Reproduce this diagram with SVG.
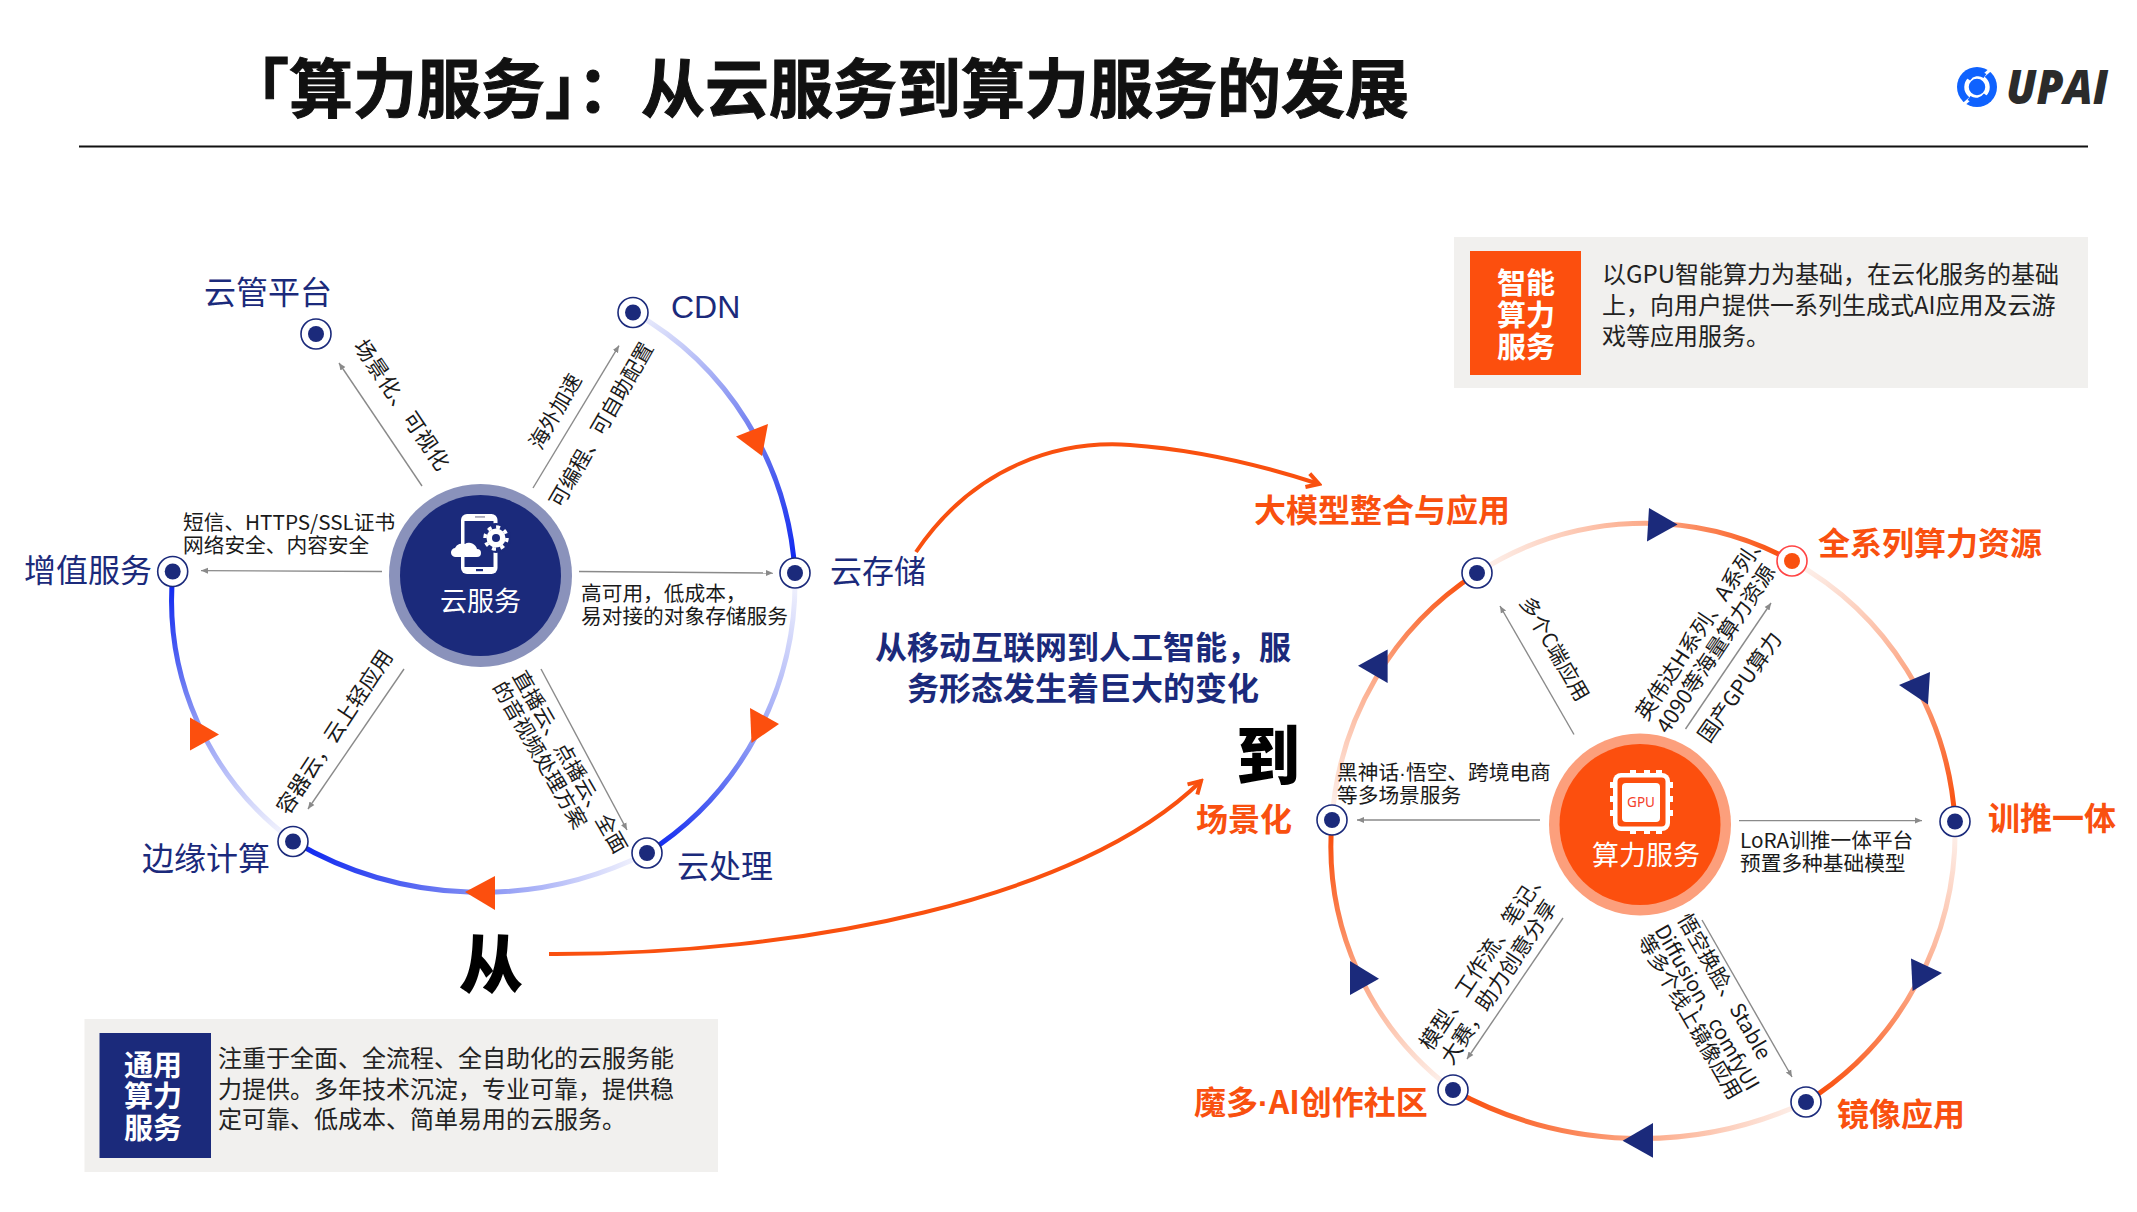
<svg xmlns="http://www.w3.org/2000/svg" width="2137" height="1212" viewBox="0 0 2137 1212">
<style>
text{font-family:"Liberation Sans","Noto Sans CJK SC",sans-serif}
.t{font-family:"Noto Sans CJK SC","Liberation Sans",sans-serif;font-size:20.7px;fill:#1a1a1a}
.w{font-size:21.3px}
.d{font-family:"Noto Sans CJK SC","Liberation Sans",sans-serif;font-size:24px;fill:#222}
.lb{font-family:"Noto Sans CJK SC",sans-serif;font-size:32px;fill:#1b2a7b}
.lo{font-family:"Noto Sans CJK SC",sans-serif;font-size:32px;font-weight:700;fill:#f9500f}
.ctr{font-family:"Noto Sans CJK SC",sans-serif;font-size:27px;fill:#fff;text-anchor:middle}
.box{font-family:"Noto Sans CJK SC",sans-serif;font-size:29px;font-weight:700;fill:#fff;text-anchor:middle}
.big{font-family:"Noto Sans CJK SC",sans-serif;font-size:64px;font-weight:900;fill:#000;text-anchor:middle}
.mid{font-family:"Noto Sans CJK SC",sans-serif;font-size:32px;font-weight:700;fill:#1b2a7b;text-anchor:middle}
.dot{font-family:"Liberation Sans",sans-serif}
.ln{fill:none;stroke:#8a8a8a;stroke-width:1.4;marker-end:url(#g)}
.arc{fill:none;stroke-width:5}
.cv{fill:none;stroke:#f9500f;stroke-width:4;marker-end:url(#o)}
.ra{fill:#fff;stroke:#1b2a7b;stroke-width:1.6}
.rb{fill:#1b2a7b}
.ah1{fill:#fc4f0e}
.ah2{fill:#1b2a7b}
</style>
<defs>
<marker id="g" viewBox="0 0 8 8" refX="7" refY="4" markerWidth="8" markerHeight="8" markerUnits="userSpaceOnUse" orient="auto"><path d="M0,1L7,4L0,7z" fill="#8a8a8a"/></marker>
<marker id="o" viewBox="0 0 18 18" refX="15" refY="9" markerWidth="18" markerHeight="18" markerUnits="userSpaceOnUse" orient="auto"><path d="M3,2L15,9L3,16" fill="none" stroke="#f9500f" stroke-width="4"/></marker>
<linearGradient id="b1" gradientUnits="userSpaceOnUse" x1="640" y1="315" x2="795" y2="560"><stop offset="0" stop-color="#eceefc"/><stop offset=".55" stop-color="#6f7df0"/><stop offset="1" stop-color="#1029f0"/></linearGradient>
<linearGradient id="b2" gradientUnits="userSpaceOnUse" x1="795" y1="585" x2="655" y2="850"><stop offset="0" stop-color="#f0f1fd"/><stop offset=".5" stop-color="#98a3f5"/><stop offset="1" stop-color="#1029f0"/></linearGradient>
<linearGradient id="b3" gradientUnits="userSpaceOnUse" x1="635" y1="860" x2="305" y2="850"><stop offset="0" stop-color="#f0f1fd"/><stop offset=".5" stop-color="#7c89f3"/><stop offset="1" stop-color="#1029f0"/></linearGradient>
<linearGradient id="b4" gradientUnits="userSpaceOnUse" x1="283" y1="830" x2="172" y2="585"><stop offset="0" stop-color="#f0f1fd"/><stop offset=".5" stop-color="#8d98f4"/><stop offset="1" stop-color="#1029f0"/></linearGradient>
<linearGradient id="r1" gradientUnits="userSpaceOnUse" x1="1490" y1="560" x2="1780" y2="555"><stop offset="0" stop-color="#fdeee8"/><stop offset=".6" stop-color="#fca27e"/><stop offset="1" stop-color="#f9500f"/></linearGradient>
<linearGradient id="r2" gradientUnits="userSpaceOnUse" x1="1805" y1="572" x2="1955" y2="808"><stop offset="0" stop-color="#fdeee8"/><stop offset=".55" stop-color="#fca27e"/><stop offset="1" stop-color="#f9500f"/></linearGradient>
<linearGradient id="r3" gradientUnits="userSpaceOnUse" x1="1955" y1="835" x2="1815" y2="1090"><stop offset="0" stop-color="#fdeee8"/><stop offset=".55" stop-color="#fca27e"/><stop offset="1" stop-color="#f9500f"/></linearGradient>
<linearGradient id="r4" gradientUnits="userSpaceOnUse" x1="1795" y1="1110" x2="1465" y2="1095"><stop offset="0" stop-color="#fdeee8"/><stop offset=".5" stop-color="#fca27e"/><stop offset="1" stop-color="#f9500f"/></linearGradient>
<linearGradient id="r5" gradientUnits="userSpaceOnUse" x1="1445" y1="1078" x2="1332" y2="835"><stop offset="0" stop-color="#fdeee8"/><stop offset=".5" stop-color="#fca27e"/><stop offset="1" stop-color="#f9500f"/></linearGradient>
<linearGradient id="r6" gradientUnits="userSpaceOnUse" x1="1334" y1="805" x2="1470" y2="582"><stop offset="0" stop-color="#fdeee8"/><stop offset=".55" stop-color="#fca27e"/><stop offset="1" stop-color="#f9500f"/></linearGradient>
</defs>
<rect width="2137" height="1212" fill="#fff"/>
<text id="title" x="225" y="112" font-size="64" font-weight="700" stroke="#111" stroke-width="1" style="font-family:'Noto Sans CJK SC',sans-serif" fill="#111">「算力服务」：从云服务到算力服务的发展</text>
<path d="M79,146.500H2088" stroke="#111" stroke-width="2.200"/>
<g id="logo">
<circle cx="1977" cy="87" r="20" fill="#0f62fe"/>
<circle cx="1977" cy="87" r="10.500" fill="none" stroke="#fff" stroke-width="4.500"/>
<path d="M1964,104L1972,97M1990,70L1982,77" stroke="#fff" stroke-width="3"/>
<path d="M1968,79A12,12 0 0 1 1985,76M1986,95A12,12 0 0 1 1969,98" fill="none" stroke="#0f62fe" stroke-width="5"/>
<text x="2006" y="104" font-size="47" font-weight="800" font-style="italic" textLength="102" lengthAdjust="spacingAndGlyphs" style="font-family:'Open Sans',sans-serif" fill="#2b2b2b">UPAI</text>
</g>

<g id="connectors">
<path class="arc" stroke="url(#b1)" d="M633,312A312,320 0 0 1 795,573"/>
<path class="arc" stroke="url(#b2)" d="M795,573A312,320 0 0 1 647,853"/>
<path class="arc" stroke="url(#b3)" d="M647,853A370,370 0 0 1 293,841"/>
<path class="arc" stroke="url(#b4)" d="M293,841A300,300 0 0 1 173,571"/>
<polygon class="ah1" points="768,424 736,436.500 762,456"/>
<polygon class="ah1" points="750,708 779,724 751.500,743"/>
<polygon class="ah1" points="495,876 465,892 495,910"/>
<polygon class="ah1" points="190,717.500 219,734.500 190,750.600"/>
<path class="arc" stroke="url(#r1)" d="M1477,573A312,318 0 0 1 1792,561"/>
<path class="arc" stroke="url(#r2)" d="M1792,561A312,318 0 0 1 1955,821"/>
<path class="arc" stroke="url(#r3)" d="M1955,821A312,318 0 0 1 1806,1102"/>
<path class="arc" stroke="url(#r4)" d="M1806,1102A390,390 0 0 1 1453,1090"/>
<path class="arc" stroke="url(#r5)" d="M1453,1090A305,305 0 0 1 1332,820"/>
<path class="arc" stroke="url(#r6)" d="M1332,820A312,318 0 0 1 1477,573"/>
<polygon class="ah2" points="1649,508 1677.600,524.600 1647,541.600"/>
<polygon class="ah2" points="1930,672 1899,685 1928,704.600"/>
<polygon class="ah2" points="1911,958.600 1942,973 1912.600,991"/>
<polygon class="ah2" points="1653,1123 1622.600,1140.700 1653,1157.700"/>
<polygon class="ah2" points="1350,961 1379,978.700 1350,995"/>
<polygon class="ah2" points="1387.600,649.600 1358,665.700 1387.600,683"/>
<path class="ln" d="M422,486L339,363"/>
<path class="ln" d="M533,488L619,345.600"/>
<path class="ln" d="M579,571.500L773,573"/>
<path class="ln" d="M541,669L627,830"/>
<path class="ln" d="M404,669L308,809"/>
<path class="ln" d="M382,571.500L201,570.600"/>
<path class="ln" d="M1574,734.500L1500,606"/>
<path class="ln" d="M1685.500,729L1771,603"/>
<path class="ln" d="M1739,820.600L1922,820.600"/>
<path class="ln" d="M1702,920L1792,1077"/>
<path class="ln" d="M1563,918L1467,1059"/>
<path class="ln" d="M1540,820L1357,820"/>
<path class="cv" d="M916,552C975,465 1060,440 1130,445C1200,450 1270,468 1319,484"/>
<path class="cv" d="M549,954C800,955 1080,900 1201,781"/>
</g>

<g id="cloud-service">
<circle cx="480.500" cy="575.500" r="91.500" fill="#8a92bb"/>
<circle cx="480.500" cy="575.500" r="80.500" fill="#1b2a7b"/>
<rect x="461" y="514" width="36.500" height="60" rx="6" fill="#fff"/>
<rect x="464.500" y="521" width="29" height="46" fill="#1b2a7b"/>
<rect x="475" y="516" width="10" height="1.800" fill="#aab"/>
<rect x="476" y="569" width="7" height="2.200" fill="#1b2a7b"/>
<circle cx="496" cy="538" r="15" fill="#1b2a7b"/>
<circle cx="496" cy="538" r="9.500" fill="#fff"/>
<circle cx="496" cy="538" r="11" fill="none" stroke="#fff" stroke-width="3.500" stroke-dasharray="4 4.600"/>
<circle cx="496" cy="538" r="4" fill="#1b2a7b"/>
<path d="M456,557a4.500,4.500 0 0 1 -1,-9a8,8 0 0 1 10,-4a8,8 0 0 1 12,5a4,4 0 0 1 0,8z" fill="#fff"/>
<text class="ctr" x="480.500" y="611">云服务</text>
</g>
<g id="compute-service">
<circle cx="1640" cy="824.500" r="91" fill="#fc9f7c"/>
<circle cx="1640" cy="824.500" r="80.500" fill="#fc4f0e"/>
<rect x="1613" y="773" width="57" height="58" rx="8" fill="#fff"/>
<path d="M1614,782h-4v6h4zM1614,796h-4v6h4zM1614,810h-4v6h4zM1669,782h4v6h-4zM1669,796h4v6h-4zM1669,810h4v6h-4zM1630,774v-4h6v4zM1644,774v-4h6v4zM1656,774v-4h6v4zM1630,830v4h6v-4zM1644,830v4h6v-4zM1656,830v4h6v-4z" fill="#fff"/>
<rect x="1617.500" y="777.500" width="48" height="49" rx="4" fill="#fc4f0e"/>
<rect x="1622" y="783" width="38" height="39" rx="4" fill="#fff"/>
<text x="1641" y="807" font-size="13.500" text-anchor="middle" fill="#f4402a" style="font-family:'Noto Sans',sans-serif">GPU</text>
<text class="ctr" x="1646" y="865">算力服务</text>
</g>

<g id="n-yunguan"><circle class="ra" cx="316" cy="334" r="15"/><circle class="rb" cx="316" cy="334" r="8"/><text class="lb" x="204" y="304">云管平台</text></g>
<g id="n-cdn"><circle class="ra" cx="633" cy="312.500" r="15"/><circle class="rb" cx="633" cy="312.500" r="8"/><text class="lb" x="671" y="318" style="font-family:'Liberation Sans',sans-serif">CDN</text></g>
<g id="n-storage"><circle class="ra" cx="795" cy="573" r="15"/><circle class="rb" cx="795" cy="573" r="8"/><text class="lb" x="830" y="583">云存储</text></g>
<g id="n-process"><circle class="ra" cx="647" cy="853" r="15"/><circle class="rb" cx="647" cy="853" r="8"/><text class="lb" x="677" y="878">云处理</text></g>
<g id="n-edge"><circle class="ra" cx="293" cy="841.500" r="15"/><circle class="rb" cx="293" cy="841.500" r="8"/><text class="lb" x="142" y="870">边缘计算</text></g>
<g id="n-vas"><circle class="ra" cx="172.700" cy="571.500" r="15"/><circle class="rb" cx="172.700" cy="571.500" r="8"/><text class="lb" x="24" y="582">增值服务</text></g>

<g id="n-llm"><circle class="ra" cx="1477" cy="573" r="15"/><circle class="rb" cx="1477" cy="573" r="8"/><text class="lo" x="1254" y="522">大模型整合与应用</text></g>
<g id="n-gpu"><circle cx="1792" cy="561" r="15" fill="#fff" stroke="#f44" stroke-width="1.600"/><circle cx="1792" cy="561" r="8" fill="#f9500f"/><text class="lo" x="1818" y="555">全系列算力资源</text></g>
<g id="n-train"><circle class="ra" cx="1955" cy="821.500" r="15"/><circle class="rb" cx="1955" cy="821.500" r="8"/><text class="lo" x="1988" y="830">训推一体</text></g>
<g id="n-mirror"><circle class="ra" cx="1806" cy="1102" r="15"/><circle class="rb" cx="1806" cy="1102" r="8"/><text class="lo" x="1837" y="1126">镜像应用</text></g>
<g id="n-moda"><circle class="ra" cx="1453" cy="1090" r="15"/><circle class="rb" cx="1453" cy="1090" r="8"/><text class="lo" x="1194" y="1114">魔多<tspan class="dot">·</tspan>AI创作社区</text></g>
<g id="n-scene"><circle class="ra" cx="1332" cy="820" r="15"/><circle class="rb" cx="1332" cy="820" r="8"/><text class="lo" x="1196" y="831">场景化</text></g>

<g id="edge-labels">
<text class="t w" transform="translate(353,346) rotate(56)" letter-spacing="0.5">场景化、可视化</text>
<text class="t" transform="translate(541,451) rotate(-60)">海外加速</text>
<text class="t" transform="translate(561,509) rotate(-60)">可编程、可自助配置</text>
<text class="t" x="581" y="601">高可用，低成本，</text>
<text class="t" x="581" y="624">易对接的对象存储服务</text>
<text class="t" transform="translate(512,676) rotate(60)">直播云、点播云、全面</text>
<text class="t" transform="translate(492,687) rotate(60)">的音视频处理方案</text>
<text class="t w" transform="translate(288,816) rotate(-56.500)">容器云，云上轻应用</text>
<text class="t" x="183" y="530">短信、HTTPS/SSL证书</text>
<text class="t" x="183" y="553">网络安全、内容安全</text>
<text class="t" transform="translate(1519,602) rotate(60)">多个C端应用</text>
<text class="t w" transform="translate(1647,722) rotate(-56.500)">英伟达H系列、A系列、</text>
<text class="t w" transform="translate(1668,735) rotate(-56.500)">4090等海量算力资源</text>
<text class="t w" transform="translate(1709,744) rotate(-55)">国产GPU算力</text>
<text class="t" x="1740" y="848">LoRA训推一体平台</text>
<text class="t" x="1740" y="871">预置多种基础模型</text>
<text class="t" transform="translate(1677,919) rotate(60)">悟空换脸、Stable</text>
<text class="t" transform="translate(1654,930) rotate(60)">Diffusion、comfyUI</text>
<text class="t" transform="translate(1637,940) rotate(60)">等多个线上镜像应用</text>
<text class="t w" transform="translate(1431,1052) rotate(-56.500)">模型、工作流、笔记、</text>
<text class="t w" transform="translate(1452,1066) rotate(-56.500)">大赛，助力创意分享</text>
<text class="t" x="1337" y="780">黑神话<tspan class="dot">·</tspan>悟空、跨境电商</text>
<text class="t" x="1337" y="803">等多场景服务</text>
</g>

<g id="bottom-note">
<rect x="84.500" y="1019" width="633.500" height="153" fill="#f1f0ee"/>
<rect x="99.500" y="1033" width="111.500" height="125" fill="#1b2a7b"/>
<text class="box" x="153" y="1076">通用</text><text class="box" x="153" y="1107">算力</text><text class="box" x="153" y="1139">服务</text>
<text class="d" x="218" y="1067">注重于全面、全流程、全自助化的云服务能</text>
<text class="d" x="218" y="1098">力提供。多年技术沉淀，专业可靠，提供稳</text>
<text class="d" x="218" y="1128">定可靠、低成本、简单易用的云服务。</text>
</g>
<g id="top-note">
<rect x="1454" y="237" width="634" height="151" fill="#f1f0ee"/>
<rect x="1470" y="251" width="111" height="124" fill="#fc4f0e"/>
<text class="box" x="1526" y="294">智能</text><text class="box" x="1526" y="326">算力</text><text class="box" x="1526" y="358">服务</text>
<text class="d" x="1602" y="283">以GPU智能算力为基础，在云化服务的基础</text>
<text class="d" x="1602" y="314">上，向用户提供一系列生成式AI应用及云游</text>
<text class="d" x="1602" y="345">戏等应用服务。</text>
</g>
<text class="mid" x="1083" y="659">从移动互联网到人工智能，服</text>
<text class="mid" x="1083" y="700">务形态发生着巨大的变化</text>
<text class="big" x="491" y="988">从</text>
<text class="big" x="1268" y="779">到</text>
</svg>
